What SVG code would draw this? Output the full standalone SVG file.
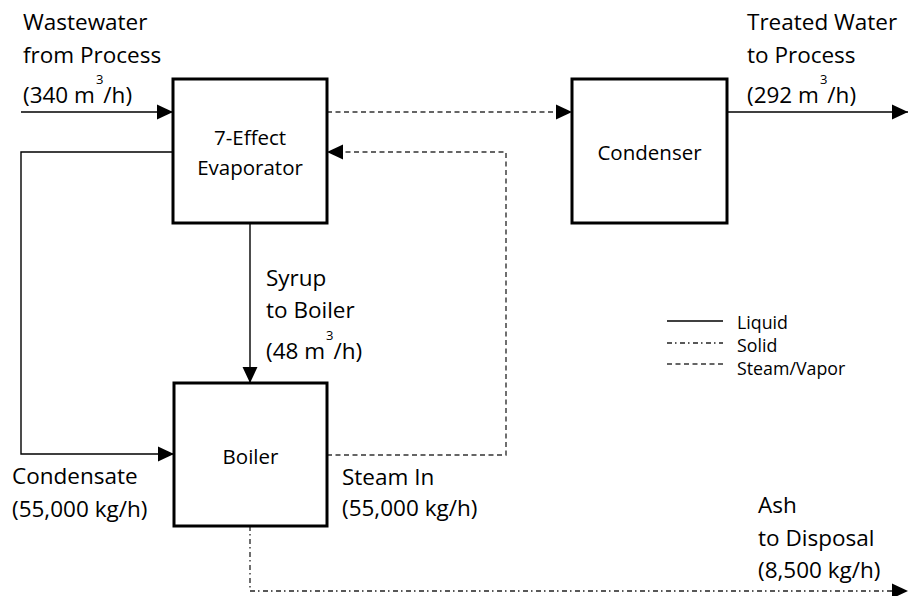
<svg xmlns="http://www.w3.org/2000/svg" width="909" height="596" viewBox="0 0 909 596">
<style>
text{font-family:"Open Sans","Noto Sans","Liberation Sans",sans-serif;fill:#000}
.lbl{font-size:22.5px}
.box text{font-size:20.5px;text-anchor:middle}
.box rect{fill:#fff;stroke:#000;stroke-width:3}
.liq{fill:none;stroke:#000;stroke-width:1.4}
.vap{fill:none;stroke:#333;stroke-width:1.4;stroke-dasharray:5 3.5}
.sol{fill:none;stroke:#222;stroke-width:1.3;stroke-dasharray:5 3 1.5 3.5}
.leg{font-size:17.8px}
.sup{font-size:13px}
</style>
<defs>
<marker id="arr" markerUnits="userSpaceOnUse" markerWidth="16" markerHeight="16" viewBox="0 0 15 14" refX="15" refY="7" orient="auto">
<path d="M0,0 L15,7 L0,14 z" fill="#000"/>
</marker>
</defs>
<g id="connectors">
<path class="liq" d="M21,112 H173" marker-end="url(#arr)"/>
<path class="liq" d="M173,152 H21 V454 H174" marker-end="url(#arr)"/>
<path class="liq" d="M250,223 V383" marker-end="url(#arr)"/>
<path class="vap" d="M327,112 H572" marker-end="url(#arr)"/>
<path class="vap" d="M327,455 H506 V152 H327" marker-end="url(#arr)"/>
<path class="liq" d="M727,112 H908" marker-end="url(#arr)"/>
<path class="sol" d="M250,526 V591 H908" marker-end="url(#arr)"/>
</g>
<g id="evaporator" class="box">
<rect x="173" y="79" width="154" height="144"/>
<text x="250" y="145">7-Effect</text>
<text x="250" y="175">Evaporator</text>
</g>
<g id="condenser" class="box">
<rect x="572" y="79" width="155" height="144"/>
<text x="649.5" y="160">Condenser</text>
</g>
<g id="boiler" class="box">
<rect x="174" y="383" width="153" height="143"/>
<text x="250.5" y="464">Boiler</text>
</g>
<g id="labels" class="lbl">
<text x="23" y="30">Wastewater</text>
<text x="23" y="63">from Process</text>
<text x="23" y="103">(340 m<tspan class="sup" dx="1" dy="-19">3</tspan><tspan dy="19">/h)</tspan></text>
<text x="747" y="30">Treated Water</text>
<text x="747" y="63">to Process</text>
<text x="747" y="103">(292 m<tspan class="sup" dx="1" dy="-19">3</tspan><tspan dy="19">/h)</tspan></text>
<text x="266" y="286">Syrup</text>
<text x="266" y="318">to Boiler</text>
<text x="266" y="359">(48 m<tspan class="sup" dx="1" dy="-19">3</tspan><tspan dy="19">/h)</tspan></text>
<text x="12" y="484">Condensate</text>
<text x="12" y="517">(55,000 kg/h)</text>
<text x="342" y="485">Steam In</text>
<text x="342" y="516">(55,000 kg/h)</text>
<text x="758" y="513">Ash</text>
<text x="758" y="546">to Disposal</text>
<text x="758" y="578">(8,500 kg/h)</text>
</g>
<g id="legend">
<path class="liq" d="M667,321 H723" stroke-width="1"/>
<path class="sol" d="M667,343 H723"/>
<path class="vap" d="M667,364 H723" stroke-width="1"/>
<text class="leg" x="737" y="329">Liquid</text>
<text class="leg" x="737" y="352">Solid</text>
<text class="leg" x="737" y="375">Steam/Vapor</text>
</g>
</svg>
